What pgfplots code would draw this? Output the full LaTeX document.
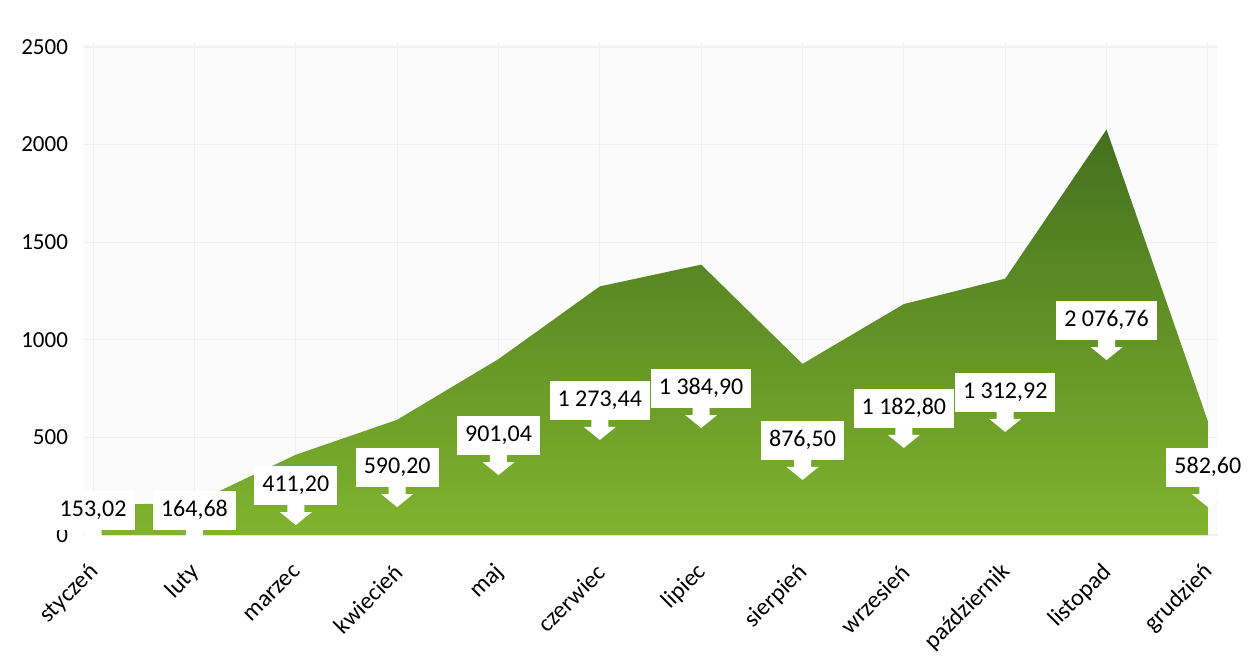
\documentclass[border=0pt]{standalone}
\usepackage{fontspec}
\setmainfont{Carlito}
\usepackage{pgfplots}
\usepackage{pgfplotstable}
\pgfplotsset{compat=1.18}

\definecolor{zgora}{RGB}{68,112,30}
\definecolor{zsrodek}{RGB}{106,160,40}
\definecolor{zdol}{RGB}{128,180,46}

% x, wartosc, y grota strzalki etykiety
\pgfplotstableread{
x v tip
0 153.02 -77
1 164.68 -77
2 411.20 51
3 590.20 143
4 901.04 307
5 1273.44 487
6 1384.90 548
7 876.50 282
8 1182.80 446
9 1312.92 528
10 2076.76 896
11 582.60 143
}\dane

\pgfdeclareplotmark{strzalka}{%
  \pgfpathmoveto{\pgfpoint{0pt}{0pt}}%
  \pgfpathlineto{\pgfpoint{8pt}{6.5pt}}%
  \pgfpathlineto{\pgfpoint{4.25pt}{6.5pt}}%
  \pgfpathlineto{\pgfpoint{4.25pt}{10.5pt}}%
  \pgfpathlineto{\pgfpoint{-4.25pt}{10.5pt}}%
  \pgfpathlineto{\pgfpoint{-4.25pt}{6.5pt}}%
  \pgfpathlineto{\pgfpoint{-8pt}{6.5pt}}%
  \pgfpathclose
  \pgfusepathqfill
}

\begin{document}
\begin{tikzpicture}
\begin{axis}[
  scale only axis,
  width=567.5pt, height=246pt,
  xmin=-0.1, xmax=11.1,
  ymin=0, ymax=2520,
  clip=false,
  axis line style={draw=none},
  tick style={draw=none},
  xtick={0,...,11},
  xticklabels={styczeń,luty,marzec,kwiecień,maj,czerwiec,lipiec,sierpień,wrzesień,październik,listopad,grudzień},
  xticklabel style={rotate=45, anchor=east, font=\fontsize{12}{12}\selectfont,
    xshift=-1.5pt, yshift=-6pt},
  xticklabel shift=9pt,
  ytick={0,500,...,2500},
  yticklabel style={font=\fontsize{11.5}{12}\selectfont, xshift=-4pt},
  /pgf/number format/assume math mode=true,
  /pgf/number format/1000 sep={},
  grid=major,
  major grid style={draw=black!6, line width=0.6pt},
  axis background/.style={fill=black!1.5},
  ]
  \addplot[draw=none, top color=zgora, middle color=zsrodek, bottom color=zdol]
    table[x=x, y=v] {\dane} \closedcycle;

  \addplot[only marks, mark=strzalka, fill=white, draw=none,
    point meta=\thisrow{v},
    nodes near coords={\pgfmathprintnumber[fixed, fixed zerofill, precision=2, use comma, 1000 sep={\ }, assume math mode=true]{\pgfplotspointmeta}},
    every node near coord/.append style={anchor=south, yshift=10pt, fill=white,
      inner xsep=4pt, inner ysep=0pt, minimum height=19.5pt, text=black,
      font=\fontsize{12}{12}\selectfont}]
    table[x=x, y=tip] {\dane};
\end{axis}
\pgfresetboundingbox
\path[use as bounding box] (-41.5pt,-63pt) rectangle (587.5pt,267.5pt);
\end{tikzpicture}
\end{document}
